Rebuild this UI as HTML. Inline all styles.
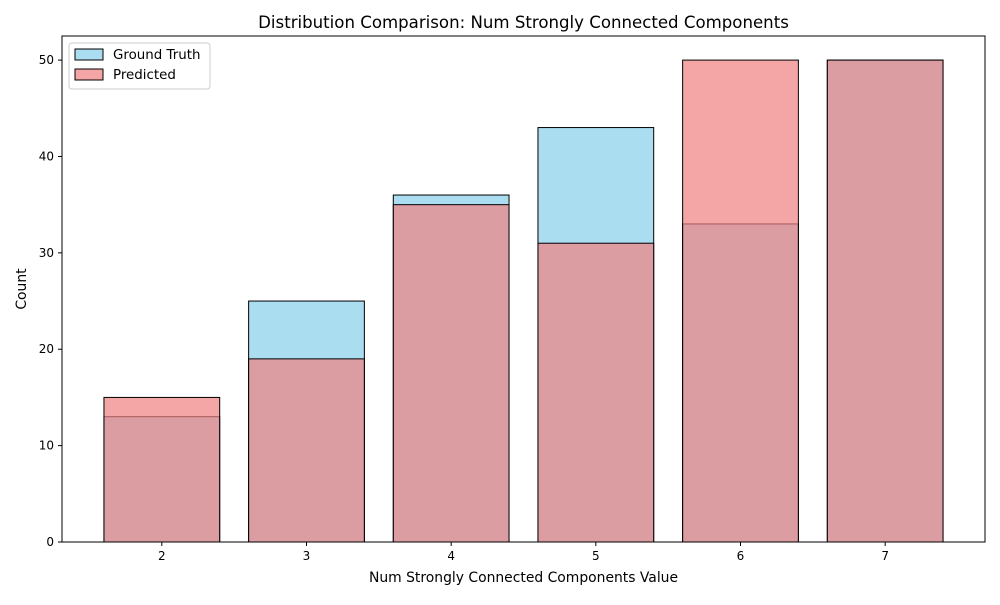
<!DOCTYPE html>
<html><head><meta charset="utf-8"><style>body{margin:0;background:#fff}svg{font-family:"DejaVu Sans","Liberation Sans",sans-serif}</style></head>
<body>
<svg id="c" width="1000" height="600"></svg>
<script>
const categories=[2,3,4,5,6,7];
const groundTruth=[13,25,36,43,33,50];
const predicted=[15,19,35,31,50,50];
const yTicks=[0,10,20,30,40,50];
const L=62,R=985,T=36,B=542,xmin=1.31,xmax=7.69,ymax=52.5;
const sx=v=>L+(v-xmin)/(xmax-xmin)*(R-L);
const sy=v=>B-v/ymax*(B-T);
const svg=document.getElementById('c');const NS='http://www.w3.org/2000/svg';
function mk(t,a,txt){const e=document.createElementNS(NS,t);for(const k in a)e.setAttribute(k,a[k]);if(txt!=null)e.textContent=txt;svg.appendChild(e);return e;}
function bars(vals,fill,name){vals.forEach((v,i)=>{const x0=sx(categories[i]-0.4),x1=sx(categories[i]+0.4);
const r=mk('rect',{x:x0,y:sy(v),width:x1-x0,height:sy(0)-sy(v),fill:fill,'fill-opacity':0.7,stroke:'#000','stroke-width':1});

});}
bars(groundTruth,'#87ceeb','ground-truth');
bars(predicted,'#f08080','predicted');
const fr=mk('rect',{x:L,y:T,width:R-L,height:B-T,fill:'none',stroke:'#000','stroke-width':1});


categories.forEach(c=>{const x=sx(c);mk('line',{x1:x,x2:x,y1:B,y2:B+4,stroke:'#000'});
const t=mk('text',{x:x,y:B+18,'text-anchor':'middle','font-size':12},c);

});
yTicks.forEach(v=>{const y=sy(v);mk('line',{x1:L-4,x2:L,y1:y,y2:y,stroke:'#000'});
const t=mk('text',{x:L-8,y:y+4,'text-anchor':'end','font-size':12},v);

});
const ti=mk('text',{x:(L+R)/2,y:28,'text-anchor':'middle','font-size':16.6},'Distribution Comparison: Num Strongly Connected Components');


const xt=mk('text',{x:(L+R)/2,y:582,'text-anchor':'middle','font-size':13.9},'Num Strongly Connected Components Value');


const yt=mk('text',{x:26,y:(T+B)/2,'text-anchor':'middle','font-size':13.9,transform:'rotate(-90 26 '+(T+B)/2+')'},'Count');


const lg=mk('rect',{x:69,y:43,width:141,height:46,fill:'#fff',stroke:'#ccc',rx:3});


[['Ground Truth','#87ceeb',49],['Predicted','#f08080',69]].forEach(([n,c,y])=>{
mk('rect',{x:75,y:y,width:28,height:11,fill:c,'fill-opacity':0.7,stroke:'#000'});
const t=mk('text',{x:113,y:y+10,'font-size':13.4},n);

});
</script>
</body></html>
